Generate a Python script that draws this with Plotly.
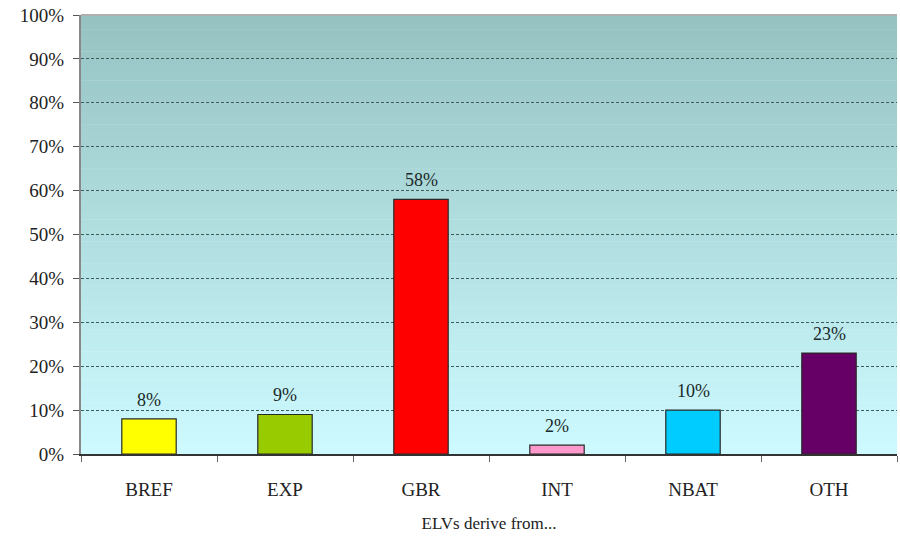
import plotly.graph_objects as go

categories = ["BREF", "EXP", "GBR", "INT", "NBAT", "OTH"]
shares = [0.08, 0.09, 0.58, 0.02, 0.10, 0.23]
bar_colors = ["#ffff00", "#99cc00", "#ff0000", "#ff99cc", "#00ccff", "#660066"]
x_title = "ELVs derive from..."

SERIF = "Liberation Serif"

fig = go.Figure()
fig.add_trace(go.Bar(
    x=categories, y=shares,
    marker=dict(color=bar_colors, line=dict(color="#2a2a2a", width=1.2)),
    width=0.4,
    cliponaxis=False,
))

for c, v in zip(categories, shares):
    fig.add_annotation(x=c, y=v, text=f"{v:.0%}", showarrow=False,
                       yanchor="bottom", yshift=7,
                       font=dict(family=SERIF, size=18, color="#1a2a2a"))

# background gradient
top = (0x96, 0xc2, 0xc2)
bot = (0xcc, 0xfa, 0xfe)
n = 60
shapes = []
for i in range(n):
    t = i / (n - 1)
    c = tuple(round(top[k] + (bot[k] - top[k]) * t) for k in range(3))
    shapes.append(dict(type="rect", xref="paper", yref="paper",
                       x0=0, x1=1, y0=1 - (i + 1) / n, y1=1 - i / n + 0.001,
                       fillcolor="rgb(%d,%d,%d)" % c, line=dict(width=0), layer="below"))
shapes.append(dict(type="line", xref="paper", yref="paper", x0=0, x1=1, y0=1, y1=1,
                   line=dict(color="#b0b0b0", width=2), layer="above"))

fig.update_layout(
    width=900, height=538,
    margin=dict(l=81, r=3, t=15, b=84),
    paper_bgcolor="white",
    plot_bgcolor="rgba(0,0,0,0)",
    shapes=shapes,
    showlegend=False,
    bargap=0.6,
    font=dict(family=SERIF, color="#222"),
)
fig.update_xaxes(
    type="category",
    showline=True, linecolor="#333", linewidth=2,
    ticks="outside", tickson="boundaries", ticklen=6, tickcolor="#666",
    tickfont=dict(family=SERIF, size=19, color="#222"),
    ticklabelstandoff=17,
    title=dict(text=x_title, font=dict(family=SERIF, size=17, color="#222"), standoff=18),
    showgrid=False,
)
fig.update_yaxes(
    range=[0, 1], dtick=0.1, tickformat=".0%",
    showline=True, linecolor="#888", linewidth=2,
    ticks="outside", ticklen=6, tickcolor="#555",
    tickfont=dict(family=SERIF, size=19, color="#222"),
    ticklabelstandoff=5,
    showgrid=True, gridcolor="#3f5c5c", gridwidth=1, griddash="3px,2px",
    zeroline=False,
)

fig.write_html("out.html")
